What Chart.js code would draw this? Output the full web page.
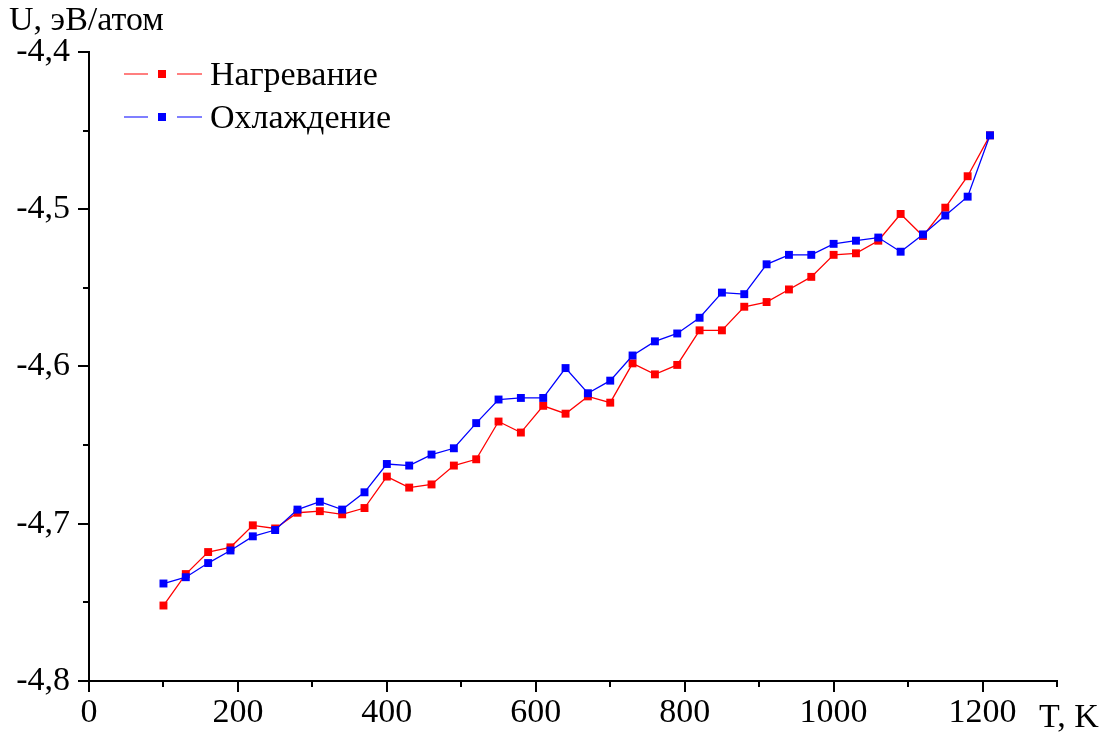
<!DOCTYPE html>
<html>
<head>
<meta charset="utf-8">
<script src="https://cdn.jsdelivr.net/npm/chart.js@4.4.1/dist/chart.umd.min.js"></script>
<style>
  html, body { margin: 0; padding: 0; background: #fff; }
  #wrap { width: 1110px; height: 736px; }
</style>
</head>
<body>
<div id="wrap"><canvas id="energyChart" width="1110" height="736"></canvas></div>
<script>
// Temperature points, K
const temps = [100, 130, 160, 190, 220, 250, 280, 310, 340, 370, 400, 430, 460, 490, 520,
    550, 580, 610, 640, 670, 700, 730, 760, 790, 820, 850, 880, 910, 940, 970, 1000,
    1030, 1060, 1090, 1120, 1150, 1180, 1210];

// Energy while heating, eV/atom
const heating = [-4.752, -4.732, -4.718, -4.715, -4.701, -4.703, -4.693, -4.692, -4.694, -4.690,
    -4.670, -4.677, -4.675, -4.663, -4.659, -4.635, -4.642, -4.625, -4.630, -4.619,
    -4.623, -4.598, -4.605, -4.599, -4.577, -4.577, -4.562, -4.559, -4.551, -4.543,
    -4.529, -4.528, -4.520, -4.503, -4.517, -4.499, -4.479, -4.453];

// Energy while cooling, eV/atom
const cooling = [-4.738, -4.734, -4.725, -4.717, -4.708, -4.704, -4.691, -4.686, -4.691, -4.680,
    -4.662, -4.663, -4.656, -4.652, -4.636, -4.621, -4.620, -4.620, -4.601, -4.617,
    -4.609, -4.593, -4.584, -4.579, -4.569, -4.553, -4.554, -4.535, -4.529, -4.529,
    -4.522, -4.520, -4.518, -4.527, -4.516, -4.504, -4.492, -4.453];

const seriesNames = ['Нагревание', 'Охлаждение'];
const seriesColors = ['#ff0000', '#0000ff'];

const xMinorTicks = [100, 300, 500, 700, 900, 1100, 1300];
const yMinorTicks = [-4.75, -4.65, -4.55, -4.45];

const FONT = '"Liberation Serif", "Times New Roman", serif';
const FONT_SIZE = 34;

function toPoints(ys) {
    return temps.map((t, i) => ({ x: t, y: ys[i] }));
}

// minor ticks, axis captions and legend drawn on top
const decorPlugin = {
    id: 'decor',
    afterDraw(chart) {
        const ctx = chart.ctx;
        const xs = chart.scales.x;
        const ys = chart.scales.y;
        const area = chart.chartArea;
        ctx.save();
        ctx.strokeStyle = '#000';
        ctx.lineWidth = 2;
        ctx.beginPath();
        xMinorTicks.forEach(v => {
            const px = Math.round(xs.getPixelForValue(v));
            ctx.moveTo(px, area.bottom);
            ctx.lineTo(px, area.bottom + 6);
        });
        yMinorTicks.forEach(v => {
            const py = Math.round(ys.getPixelForValue(v));
            ctx.moveTo(area.left, py);
            ctx.lineTo(area.left - 6, py);
        });
        ctx.stroke();

        ctx.fillStyle = '#000';
        ctx.font = FONT_SIZE + 'px ' + FONT;
        ctx.textBaseline = 'alphabetic';
        ctx.textAlign = 'left';
        ctx.fillText('U, эВ/атом', 9, 30);
        ctx.fillText('T, K', 1039, 727);

        // legend: line - square - line, then label
        seriesNames.forEach((name, i) => {
            const yy = 74 + i * 43;
            ctx.strokeStyle = seriesColors[i];
            ctx.lineWidth = 1.2;
            ctx.beginPath();
            ctx.moveTo(124, yy); ctx.lineTo(148, yy);
            ctx.moveTo(177, yy); ctx.lineTo(202, yy);
            ctx.stroke();
            ctx.fillStyle = seriesColors[i];
            ctx.fillRect(158, yy - 4, 8, 8);
            ctx.fillStyle = '#000';
            ctx.fillText(name, 210, yy + 11);
        });
        ctx.restore();
    }
};

new Chart(document.getElementById('energyChart'), {
    type: 'line',
    data: {
        datasets: [
            {
                label: seriesNames[0],
                data: toPoints(heating),
                borderColor: seriesColors[0],
                backgroundColor: seriesColors[0],
                borderWidth: 1.3,
                pointStyle: 'rect',
                pointRadius: 5.6,
                pointBorderWidth: 0,
                tension: 0,
                order: 1
            },
            {
                label: seriesNames[1],
                data: toPoints(cooling),
                borderColor: seriesColors[1],
                backgroundColor: seriesColors[1],
                borderWidth: 1.3,
                pointStyle: 'rect',
                pointRadius: 5.6,
                pointBorderWidth: 0,
                tension: 0,
                order: 0
            }
        ]
    },
    options: {
        responsive: false,
        animation: false,
        layout: {
            padding: { left: 0, top: 52, right: 53, bottom: 0 }
        },
        plugins: {
            legend: { display: false },
            tooltip: { enabled: false },
            title: { display: false }
        },
        scales: {
            x: {
                type: 'linear',
                min: 0,
                max: 1300,
                afterFit(scale) { scale.height = 55; },
                border: { display: true, color: '#000', width: 2 },
                grid: {
                    drawOnChartArea: false,
                    drawTicks: true,
                    tickLength: 11,
                    color: '#000',
                    lineWidth: 2
                },
                ticks: {
                    stepSize: 200,
                    includeBounds: false,
                    maxRotation: 0,
                    padding: 1,
                    color: '#000',
                    font: { family: FONT, size: FONT_SIZE },
                    callback: v => String(v)
                }
            },
            y: {
                type: 'linear',
                min: -4.8,
                max: -4.4,
                afterFit(scale) { scale.width = 89; },
                border: { display: true, color: '#000', width: 2 },
                grid: {
                    drawOnChartArea: false,
                    drawTicks: true,
                    tickLength: 11,
                    color: '#000',
                    lineWidth: 2
                },
                ticks: {
                    stepSize: 0.1,
                    padding: 8,
                    color: '#000',
                    font: { family: FONT, size: FONT_SIZE },
                    callback: v => v.toFixed(1).replace('.', ',')
                }
            }
        }
    },
    plugins: [decorPlugin]
});
</script>
</body>
</html>
